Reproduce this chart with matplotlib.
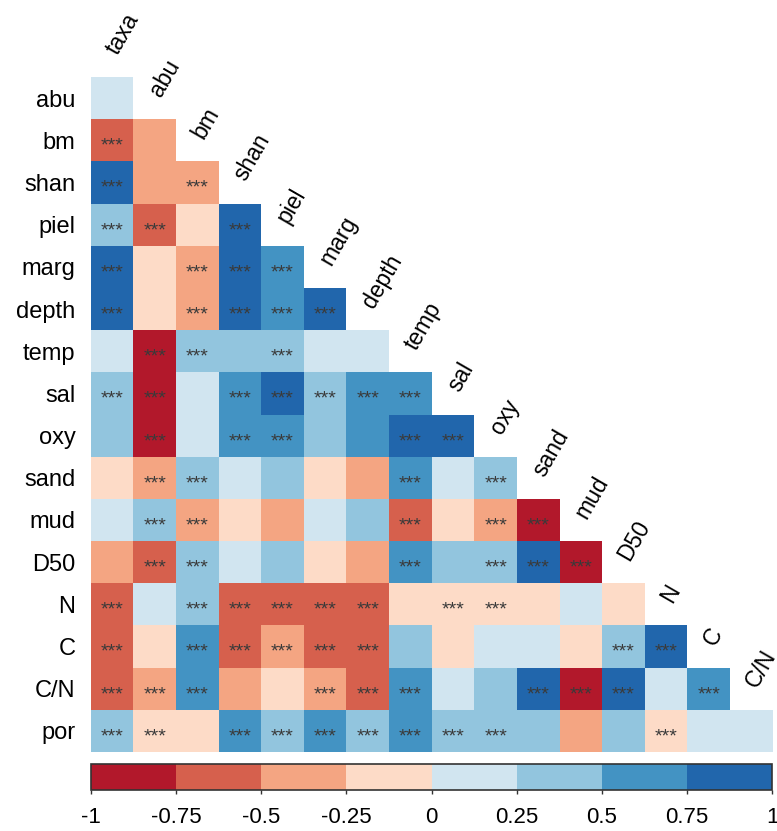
import matplotlib.pyplot as plt
import numpy as np
from matplotlib.colors import ListedColormap, BoundaryNorm
from matplotlib.cm import ScalarMappable

plt.rcParams['font.family'] = ['Liberation Sans', 'DejaVu Sans']

row_names = ['abu', 'bm', 'shan', 'piel', 'marg', 'depth', 'temp', 'sal', 'oxy',
             'sand', 'mud', 'D50', 'N', 'C', 'C/N', 'por']
col_names = ['taxa', 'abu', 'bm', 'shan', 'piel', 'marg', 'depth', 'temp', 'sal',
             'oxy', 'sand', 'mud', 'D50', 'N', 'C', 'C/N']

# lower triangle, row by row (estimated from colour classes)
corr_rows = [
    [0.12],
    [-0.62, -0.38],
    [0.85, -0.38, -0.38],
    [0.38, -0.62, -0.12, 0.85],
    [0.85, -0.12, -0.38, 0.85, 0.62],
    [0.85, -0.12, -0.38, 0.85, 0.62, 0.85],
    [0.12, -0.88, 0.38, 0.38, 0.38, 0.12, 0.12],
    [0.38, -0.88, 0.12, 0.62, 0.85, 0.38, 0.62, 0.62],
    [0.38, -0.88, 0.12, 0.62, 0.62, 0.38, 0.62, 0.85, 0.85],
    [-0.12, -0.38, 0.38, 0.12, 0.38, -0.12, -0.38, 0.62, 0.12, 0.38],
    [0.12, 0.38, -0.38, -0.12, -0.38, 0.12, 0.38, -0.62, -0.12, -0.38, -0.88],
    [-0.38, -0.62, 0.38, 0.12, 0.38, -0.12, -0.38, 0.62, 0.38, 0.38, 0.85, -0.88],
    [-0.62, 0.12, 0.38, -0.62, -0.62, -0.62, -0.62, -0.12, -0.12, -0.12, -0.12, 0.12, -0.12],
    [-0.62, -0.12, 0.62, -0.62, -0.38, -0.62, -0.62, 0.38, -0.12, 0.12, 0.12, -0.12, 0.38, 0.85],
    [-0.62, -0.38, 0.62, -0.38, -0.12, -0.38, -0.62, 0.62, 0.12, 0.38, 0.85, -0.88, 0.85, 0.12, 0.62],
    [0.38, -0.12, -0.12, 0.62, 0.38, 0.62, 0.38, 0.62, 0.38, 0.38, 0.38, -0.38, 0.38, -0.12, 0.12, 0.12],
]

# 1 = significant (***)
star_rows = [
    [0],
    [1, 0],
    [1, 0, 1],
    [1, 1, 0, 1],
    [1, 0, 1, 1, 1],
    [1, 0, 1, 1, 1, 1],
    [0, 1, 1, 0, 1, 0, 0],
    [1, 1, 0, 1, 1, 1, 1, 1],
    [0, 1, 0, 1, 1, 0, 0, 1, 1],
    [0, 1, 1, 0, 0, 0, 0, 1, 0, 1],
    [0, 1, 1, 0, 0, 0, 0, 1, 0, 1, 1],
    [0, 1, 1, 0, 0, 0, 0, 1, 0, 1, 1, 1],
    [1, 0, 1, 1, 1, 1, 1, 0, 1, 1, 0, 0, 0],
    [1, 0, 1, 1, 1, 1, 1, 0, 0, 0, 0, 0, 1, 1],
    [1, 1, 1, 0, 0, 1, 1, 1, 0, 0, 1, 1, 1, 0, 1],
    [1, 1, 0, 1, 1, 1, 1, 1, 1, 1, 0, 0, 0, 1, 0, 0],
]

n = len(row_names)
mat = np.full((n, n), np.nan)
for i, r in enumerate(corr_rows):
    mat[i, :len(r)] = r
mat = np.ma.masked_invalid(mat)

colors = ['#B2182B', '#D6604D', '#F4A582', '#FDDBC7',
          '#D1E5F0', '#92C5DE', '#4393C3', '#2166AC']
cmap = ListedColormap(colors)
bounds = np.linspace(-1, 1, 9)
norm = BoundaryNorm(bounds, cmap.N)

W, H = 777, 831
fig = plt.figure(figsize=(W / 100, H / 100), dpi=100)
ax = fig.add_axes([90.7 / W, 1 - 752 / H, 682 / W, 675 / H])
ax.pcolormesh(np.arange(n + 1), np.arange(n + 1), mat, cmap=cmap, norm=norm)
ax.set_xlim(0, n)
ax.set_ylim(n, 0)
for s in ax.spines.values():
    s.set_visible(False)
ax.set_xticks([])
ax.set_yticks(np.arange(n) + 0.5)
ax.set_yticklabels(row_names, fontsize=17)
ax.tick_params(axis='y', length=0, pad=11)

# column labels along the diagonal
for j, name in enumerate(col_names):
    ax.text(j + 0.74, j - 0.44, name, rotation=60, rotation_mode='anchor',
            ha='left', va='bottom', fontsize=16.5, clip_on=False)

# significance stars
for i, r in enumerate(star_rows):
    for j, s in enumerate(r):
        if s:
            ax.annotate('***', (j + 0.5, i + 0.5), xytext=(0, -7.5),
                        textcoords='offset points', ha='center', va='baseline',
                        fontsize=14, color='#3a3a3a')

# colour legend
cax = fig.add_axes([91 / W, 1 - 790 / H, 681 / W, 26 / H])
cb = fig.colorbar(ScalarMappable(norm=norm, cmap=cmap), cax=cax,
                  orientation='horizontal', ticks=bounds)
cb.set_ticklabels(['-1', '-0.75', '-0.5', '-0.25', '0', '0.25', '0.5', '0.75', '1'])
cb.outline.set_edgecolor('#333333')
cb.outline.set_linewidth(1.2)
cax.tick_params(axis='x', length=3, width=1, color='#333333', labelsize=16, pad=9)

fig.savefig('out.png', dpi=100)
